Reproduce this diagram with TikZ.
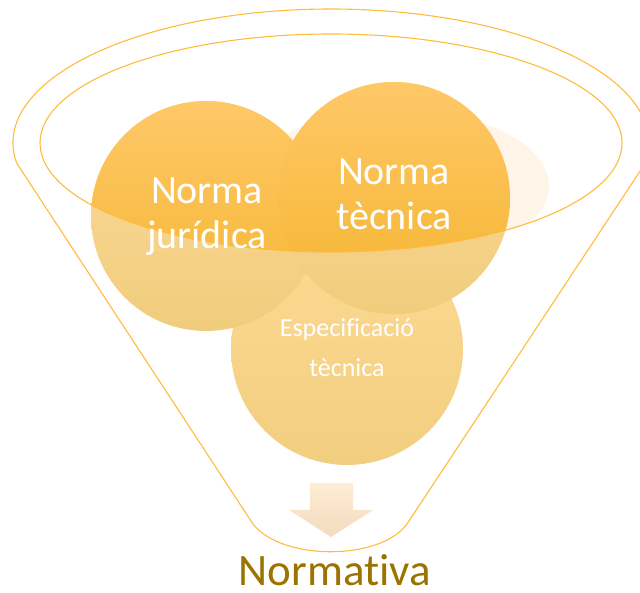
\documentclass[tikz,border=0pt]{standalone}
\usepackage{fontspec}
\setmainfont{Carlito}[Ligatures=NoCommon]
\definecolor{funnelline}{RGB}{255,188,60}
\definecolor{palefill}{RGB}{254,244,232}
\definecolor{normtop}{RGB}{255,200,104}
\definecolor{normbot}{RGB}{244,180,46}
\definecolor{lighttop}{RGB}{252,220,156}
\definecolor{lightbot}{RGB}{240,204,124}
\definecolor{spectop}{RGB}{254,218,146}
\definecolor{specbot}{RGB}{241,206,128}
\definecolor{arrowtop}{RGB}{254,236,212}
\definecolor{arrowbot}{RGB}{243,219,190}
\definecolor{titlegold}{RGB}{154,115,0}
\begin{document}
\begin{tikzpicture}[x=1pt, y=1pt,
		funnel/.style={draw=funnelline, line width=1.1pt},
		normtext/.style={text=white, align=center, font=\fontsize{40}{45}\selectfont},
		spectext/.style={text=white, align=center, font=\fontsize{26}{40}\selectfont}]
		    \useasboundingbox (0,0) rectangle (640,592);
		    
		    \begin{scope}
		    	\clip (331,449) ellipse[x radius=291, y radius=109];
		    	\fill[palefill] (397,406) ellipse[x radius=152, y radius=76];
		    \end{scope}
		    
		    \shade[top color=spectop, bottom color=specbot] (347,243) circle[radius=116];
		    \shade[top color=lighttop, bottom color=lightbot] (206,376) circle[radius=115];
		    \shade[top color=lighttop, bottom color=lightbot] (394,394) circle[radius=116];
		    \begin{scope}
		    	\clip (331,449) ellipse[x radius=291, y radius=109];
		    	\shade[top color=normtop, bottom color=normbot] (206,376) circle[radius=115];
		    	\shade[top color=normtop, bottom color=normbot] (394,394) circle[radius=116];
		    \end{scope}
		    
		   	\draw[funnel] (331,449) ellipse[x radius=291, y radius=109];
		   	\draw[funnel] (331,449) ++(188.58:318 and 134) arc[start angle=188.58, end angle=-8.58, x radius=318, y radius=134] -- (407,68) .. controls (380,31) and (282,31) .. (253,68) -- cycle;
		   	
		   	\shade[top color=arrowtop, bottom color=arrowbot] (310,109) -- (353,109) -- (353,82) -- (373,82) -- (331,55) -- (289,82) -- (310,82) -- cycle;
		   	
		    \node[normtext] (juridica) at (207,375.5) {Norma\\jurídica};
		    \node[normtext] (tecnica) at (394,397.5) {Norma\\tècnica};
		    \node[spectext] (especificacio) at (347,244.5) {Especificació\\tècnica};
		    \node[anchor=base, inner sep=0pt, text=titlegold, font=\fontsize{45}{54}\selectfont] (normativa) at (335,7) {Normativa};
		\end{tikzpicture}
\end{document}
